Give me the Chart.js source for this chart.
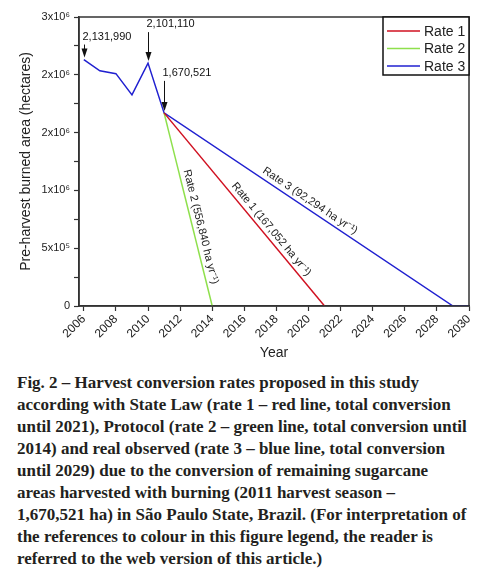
<!DOCTYPE html>
<html>
<head>
<meta charset="utf-8">
<script src="https://cdn.jsdelivr.net/npm/chart.js@4.4.0/dist/chart.umd.min.js"></script>
<style>
  html, body { margin: 0; padding: 0; background: #fff; }
  #wrap { position: relative; width: 502px; height: 573px; overflow: hidden; }
  #chartBox { position: absolute; left: 0; top: 0; width: 502px; height: 365px; }
  #caption {
    position: absolute; left: 17px; top: 372px;
    font: bold 17px/22px "Liberation Serif", serif;
    color: #231f20; white-space: nowrap;
  }
</style>
</head>
<body>
<div id="wrap">
  <div id="chartBox"><canvas id="burnCanvas" width="502" height="365"></canvas></div>
  <div id="caption">
    Fig. 2 – Harvest conversion rates proposed in this study<br>
    according with State Law (rate 1 – red line, total conversion<br>
    until 2021), Protocol (rate 2 – green line, total conversion until<br>
    2014) and real observed (rate 3 – blue line, total conversion<br>
    until 2029) due to the conversion of remaining sugarcane<br>
    areas harvested with burning (2011 harvest season –<br>
    1,670,521 ha) in São Paulo State, Brazil. (For interpretation of<br>
    the references to colour in this figure legend, the reader is<br>
    referred to the web version of this article.)
  </div>
</div>
<script>
// Observed pre-harvest burned area (ha)
const historyYears = [2006, 2007, 2008, 2009, 2010, 2011];
const historyArea = [2131990, 2035000, 2010000, 1826000, 2101110, 1670521];

// Projected conversion scenarios
const rate1Years = [2011, 2021];
const rate1Area = [1670521, 0];
const rate2Years = [2011, 2014];
const rate2Area = [1670521, 0];
const rate3Years = [2011, 2029, 2030];
const rate3Area = [1670521, 0, 0];

const seriesNames = ['Rate 1', 'Rate 2', 'Rate 3'];
const rateLabels = ['Rate 1 (167,052 ha yr⁻¹)', 'Rate 2 (556,840 ha yr⁻¹)', 'Rate 3 (92,294 ha yr⁻¹)'];

// Arrow callouts
const calloutYears = [2006, 2010, 2011];
const calloutValues = [2131990, 2101110, 1670521];
const calloutTexts = ['2,131,990', '2,101,110', '1,670,521'];

// Axis ticks
const xTickYears = [2006, 2008, 2010, 2012, 2014, 2016, 2018, 2020, 2022, 2024, 2026, 2028, 2030];
const yTickValues = [0, 250000, 500000, 750000, 1000000, 1250000, 1500000, 1750000, 2000000, 2250000, 2500000];
const yTickLabels = ['0', '', '5x10⁵', '', '1x10⁶', '', '2x10⁶', '', '2x10⁶', '', '3x10⁶'];

const axisColor = '#333333';
const textColor = '#222222';
const lineColors = ['#d01020', '#8ee04c', '#2020d0'];
const sansFont = "'Liberation Sans', Arial, sans-serif";

function toPoints(xs, ys) {
  return xs.map((x, i) => ({ x: x, y: ys[i] }));
}

// rate 3 continues the observed history
const rate3AllYears = historyYears.concat(rate3Years.slice(1));
const rate3AllArea = historyArea.concat(rate3Area.slice(1));

// callout label offsets (px above the point)
const calloutRise = [23, 39, 40];
// where along each rate line its label sits (0..1) and gap from the line
const rateLabelPos = [0.63, 0.6, 0.49];
const rateLabelGap = 8;

const decorPlugin = {
  id: 'decor',
  afterDatasetsDraw(chart) {
    const { ctx, chartArea, scales } = chart;
    const xs = scales.x, ys = scales.y;
    ctx.save();

    // frame around the plot
    ctx.strokeStyle = axisColor;
    ctx.lineWidth = 1.5;
    ctx.strokeRect(chartArea.left, chartArea.top, chartArea.right - chartArea.left, chartArea.bottom - chartArea.top);

    // arrow callouts
    ctx.fillStyle = '#111';
    ctx.strokeStyle = '#111';
    ctx.lineWidth = 1;
    ctx.font = '11px ' + sansFont;
    ctx.textBaseline = 'middle';
    ctx.textAlign = 'left';
    calloutYears.forEach((yr, i) => {
      const px = Math.round(xs.getPixelForValue(yr)) + 0.5;
      const py = ys.getPixelForValue(calloutValues[i]);
      const ly = py - calloutRise[i];
      ctx.fillText(calloutTexts[i], px - 2, ly);
      const tip = py - 2;
      ctx.beginPath();
      ctx.moveTo(px, ly + 8);
      ctx.lineTo(px, tip - 6);
      ctx.stroke();
      ctx.beginPath();
      ctx.moveTo(px, tip);
      ctx.lineTo(px - 3, tip - 9);
      ctx.lineTo(px + 3, tip - 9);
      ctx.closePath();
      ctx.fill();
    });

    // rotated labels along the rate lines
    const rateSets = [[rate1Years, rate1Area], [rate2Years, rate2Area], [rate3Years, rate3Area]];
    ctx.fillStyle = textColor;
    ctx.textAlign = 'center';
    rateSets.forEach((set, i) => {
      const x0 = xs.getPixelForValue(set[0][0]), y0 = ys.getPixelForValue(set[1][0]);
      const x1 = xs.getPixelForValue(set[0][1]), y1 = ys.getPixelForValue(set[1][1]);
      const ang = Math.atan2(y1 - y0, x1 - x0);
      const t = rateLabelPos[i];
      const cx = x0 + (x1 - x0) * t + Math.sin(ang) * rateLabelGap;
      const cy = y0 + (y1 - y0) * t - Math.cos(ang) * rateLabelGap;
      ctx.save();
      ctx.translate(cx, cy);
      ctx.rotate(ang);
      ctx.fillText(rateLabels[i], 0, 0);
      ctx.restore();
    });

    // legend box in the top right corner
    const boxW = 86, boxH = 58;
    const bx = chartArea.right - boxW, by = chartArea.top;
    ctx.fillStyle = '#fff';
    ctx.fillRect(bx, by, boxW, boxH);
    ctx.strokeStyle = '#111';
    ctx.lineWidth = 1.5;
    ctx.strokeRect(bx, by, boxW, boxH);
    ctx.font = '14px ' + sansFont;
    ctx.textAlign = 'left';
    seriesNames.forEach((name, i) => {
      const ry = by + 14 + i * 17.5;
      ctx.strokeStyle = lineColors[i];
      ctx.lineWidth = 1.5;
      ctx.beginPath();
      ctx.moveTo(bx + 4, ry);
      ctx.lineTo(bx + 37, ry);
      ctx.stroke();
      ctx.fillStyle = textColor;
      ctx.fillText(name, bx + 41, ry + 1);
    });
    ctx.restore();
  }
};

const ctx = document.getElementById('burnCanvas').getContext('2d');
new Chart(ctx, {
  type: 'line',
  data: {
    datasets: [
      { label: seriesNames[0], data: toPoints(rate1Years, rate1Area), borderColor: lineColors[0] },
      { label: seriesNames[1], data: toPoints(rate2Years, rate2Area), borderColor: lineColors[1] },
      { label: seriesNames[2], data: toPoints(rate3AllYears, rate3AllArea), borderColor: lineColors[2] }
    ]
  },
  options: {
    responsive: false,
    animation: false,
    events: [],
    elements: {
      point: { radius: 0 },
      line: { borderWidth: 1.5, tension: 0, fill: false }
    },
    layout: { padding: { left: 18, top: 17, right: 33, bottom: 3 } },
    plugins: {
      legend: { display: false },
      tooltip: { enabled: false }
    },
    scales: {
      x: {
        type: 'linear',
        min: 2005.7,
        max: 2030,
        afterBuildTicks: s => { s.ticks = xTickYears.map(v => ({ value: v })); },
        afterFit: s => { s.height = 56; },
        ticks: {
          autoSkip: false,
          minRotation: 45,
          maxRotation: 45,
          padding: 1,
          color: textColor,
          font: { size: 12, family: sansFont },
          callback: v => String(v)
        },
        grid: { drawOnChartArea: false, tickLength: 5, tickColor: axisColor, tickWidth: 1.2 },
        border: { color: axisColor, width: 1.5 },
        title: { display: true, text: 'Year', color: textColor, padding: 0, font: { size: 14, family: sansFont } }
      },
      y: {
        min: 0,
        max: 2500000,
        afterBuildTicks: s => { s.ticks = yTickValues.map(v => ({ value: v })); },
        afterFit: s => { s.width = 79 - 18; },
        ticks: {
          padding: 4,
          color: textColor,
          font: { size: 11, family: sansFont },
          callback: v => yTickLabels[yTickValues.indexOf(v)]
        },
        grid: { drawOnChartArea: false, tickLength: 5, tickColor: axisColor, tickWidth: 1.2 },
        border: { color: axisColor, width: 1.5 },
        title: { display: true, text: 'Pre-harvest burned area (hectares)', color: textColor, padding: 0, font: { size: 14, family: sansFont } }
      }
    }
  },
  plugins: [decorPlugin]
});
</script>
</body>
</html>
